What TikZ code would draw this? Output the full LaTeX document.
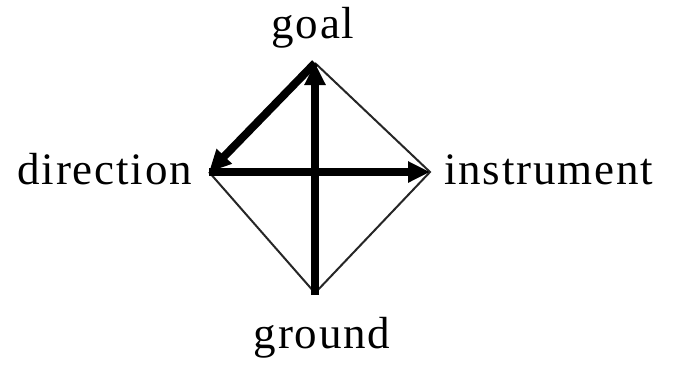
\documentclass[tikz,border=0pt]{standalone}
\usepackage{fontspec}
\setmainfont{Liberation Serif}[LetterSpace=4]
\usetikzlibrary{arrows.meta}
\begin{document}
\begin{tikzpicture}[x=1bp,y=-1bp,
  lbl/.style={inner sep=0pt,font=\fontsize{45bp}{50bp}\selectfont},
  thinedge/.style={line width=2bp,black!85},
  thickarrow/.style={line width=8bp,-{Triangle[length=22bp,width=20bp]}}]
\useasboundingbox (0,0) rectangle (674,366);
\coordinate (T) at (315,63);
\coordinate (L) at (209,172);
\coordinate (R) at (430,172);
\coordinate (B) at (315,293);
\node[lbl,anchor=base] (goal) at (313,38) {goal};
\node[lbl,anchor=base east] (direction) at (192,184) {direction};
\node[lbl,anchor=base west] (instrument) at (444,184) {instrument};
\node[lbl,anchor=base] (ground) at (322,348) {ground};
\draw[thinedge] (T) -- (R) -- (B) -- (L);
\draw[thickarrow,shorten <=-2bp] (B) -- (T);
\draw[thickarrow] (T) -- (L);
\draw[thickarrow] (L) -- (R);
\end{tikzpicture}
\end{document}
